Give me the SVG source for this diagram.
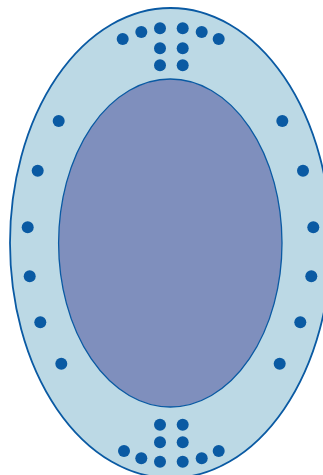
<svg xmlns="http://www.w3.org/2000/svg" width="323" height="475" viewBox="0 0 323 475">
<style>
.d{fill:#0a5aa3}
</style>
<rect width="323" height="475" fill="#ffffff"/>
<g id="outer">
<ellipse cx="170.5" cy="243" rx="160.5" ry="235" fill="#bcd9e5" stroke="#0a5aa3" stroke-width="1.8"/>
</g>
<g id="inner">
<ellipse cx="170.3" cy="243" rx="111.7" ry="164" fill="#7f8fbd" stroke="#0a5aa3" stroke-width="1.3"/>
</g>
<g id="dots">
<circle class="d" cx="122.7" cy="39" r="6"/>
<circle class="d" cx="141.3" cy="32" r="6"/>
<circle class="d" cx="160" cy="28.3" r="6"/>
<circle class="d" cx="182.7" cy="28.3" r="6"/>
<circle class="d" cx="201.7" cy="32" r="6"/>
<circle class="d" cx="218.7" cy="39" r="6"/>
<circle class="d" cx="160" cy="48.3" r="6"/>
<circle class="d" cx="182.7" cy="48.3" r="6"/>
<circle class="d" cx="160" cy="65.3" r="6"/>
<circle class="d" cx="182.7" cy="65.3" r="6"/>
<circle class="d" cx="160" cy="424.7" r="6"/>
<circle class="d" cx="182.7" cy="424.7" r="6"/>
<circle class="d" cx="160" cy="442.3" r="6"/>
<circle class="d" cx="182.7" cy="442.3" r="6"/>
<circle class="d" cx="124" cy="451" r="6"/>
<circle class="d" cx="141.3" cy="458.3" r="6"/>
<circle class="d" cx="160" cy="461.7" r="6"/>
<circle class="d" cx="182.7" cy="461.7" r="6"/>
<circle class="d" cx="201.7" cy="458.3" r="6"/>
<circle class="d" cx="218.7" cy="451" r="6"/>
<circle class="d" cx="58.7" cy="121" r="6"/>
<circle class="d" cx="37.7" cy="170.7" r="6"/>
<circle class="d" cx="27.7" cy="227.3" r="6"/>
<circle class="d" cx="29.7" cy="276.3" r="6"/>
<circle class="d" cx="40.3" cy="322.3" r="6"/>
<circle class="d" cx="61.3" cy="363.7" r="6"/>
<circle class="d" cx="282.3" cy="121" r="6"/>
<circle class="d" cx="303" cy="170.7" r="6"/>
<circle class="d" cx="313.3" cy="227.3" r="6"/>
<circle class="d" cx="311.3" cy="276.3" r="6"/>
<circle class="d" cx="300.3" cy="322.3" r="6"/>
<circle class="d" cx="279.7" cy="363.7" r="6"/>
</g>
</svg>
